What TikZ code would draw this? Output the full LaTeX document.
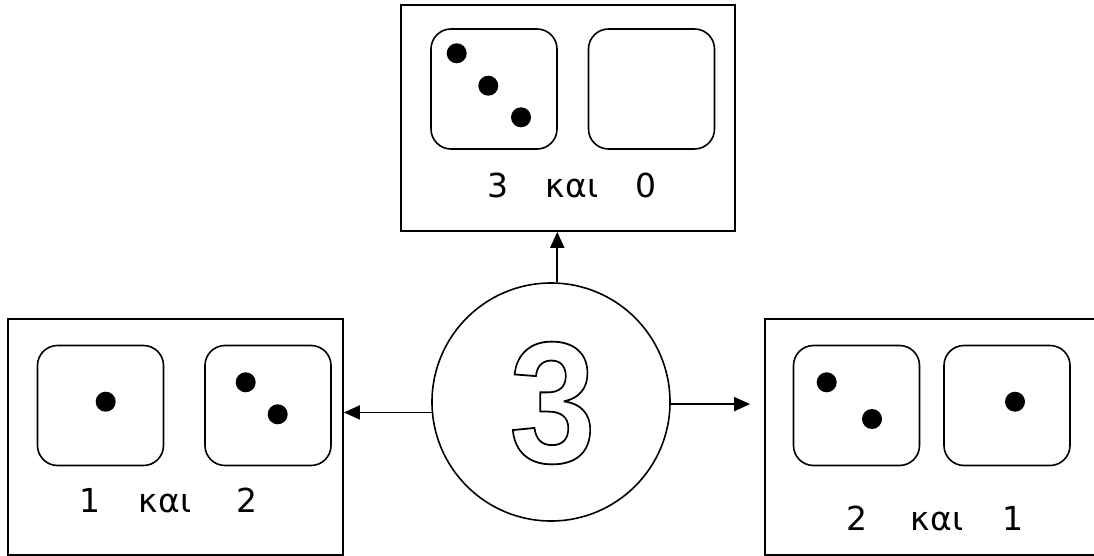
\documentclass[tikz,border=0pt]{standalone}
\usepackage{fontspec}
\setmainfont{DejaVu Sans}
\newfontfamily\bigfont{Liberation Sans}
\usetikzlibrary{arrows.meta}
\newcommand\outlinedigit[1]{\special{pdf:code q 1 Tr 1.8 w}#1\special{pdf:code Q}}
\begin{document}
\begin{tikzpicture}[x=1pt,y=-1pt,
  panel/.style={draw,line width=1.8pt,minimum width=334pt,minimum height=226pt,inner sep=0pt},
  die/.style={draw,line width=1.6pt,rounded corners=20pt,minimum width=126pt,minimum height=120pt,inner sep=0pt},
  pip/.style={fill=black,circle,minimum size=20pt,inner sep=0pt},
  lbl/.style={anchor=base,inner sep=0pt,font=\fontsize{33}{40}\selectfont},
  conn/.style={line width=1.8pt,-{Triangle[length=16pt,width=14pt]}}]
\useasboundingbox (0,0) rectangle (1094,556);
% panels
\node[panel] (T) at (568,118) {};
\node[panel,minimum width=335pt,minimum height=236pt] (L) at (175.5,437) {};
\node[panel,minimum width=335pt,minimum height=236pt] (R) at (932.5,437) {};
% dice top
\node[die] (t1) at (494,89) {};
\node[die] (t2) at (651.5,89) {};
\node[pip] (tp1) at (456.7,53.3) {};
\node[pip] (tp2) at (488.3,85.7) {};
\node[pip] (tp3) at (521,117.3) {};
% dice left
\node[die] (l1) at (100.5,405.5) {};
\node[die] (l2) at (268,405.5) {};
\node[pip] (lp1) at (105.7,401.7) {};
\node[pip] (lp2) at (245.7,382.3) {};
\node[pip] (lp3) at (277.7,414.3) {};
% dice right
\node[die] (r1) at (856.5,405.5) {};
\node[die] (r2) at (1007,405.5) {};
\node[pip] (rp1) at (826.7,382.3) {};
\node[pip] (rp2) at (872,419) {};
\node[pip] (rp3) at (1015,401.7) {};
% labels
\node[lbl] (ta) at (498,197) {3};
\node[lbl] (tb) at (572,197) {και};
\node[lbl] (tc) at (646,197) {0};
\node[lbl] (la) at (90,512) {1};
\node[lbl] (lb) at (165,512) {και};
\node[lbl] (lc) at (247,512) {2};
\node[lbl] (ra) at (857,530) {2};
\node[lbl] (rb) at (937,530) {και};
\node[lbl] (rc) at (1013,530) {1};
% centre circle
\node[draw,circle,line width=1.6pt,minimum size=238pt,inner sep=0pt] (c) at (551,402) {};
\node[inner sep=0pt] (three) at (552.5,403) {\scalebox{0.9}[1]{\bigfont\bfseries\fontsize{173}{180}\selectfont\outlinedigit{3}}};
% connectors
\draw[conn] (c.87) -- (c.87 |- T.south);
\draw[conn] (c.185) -- (c.185 -| L.east);
\draw[conn,shorten >=14pt] (c.-1.5) -- (c.-1.5 -| R.west);
\end{tikzpicture}
\end{document}
